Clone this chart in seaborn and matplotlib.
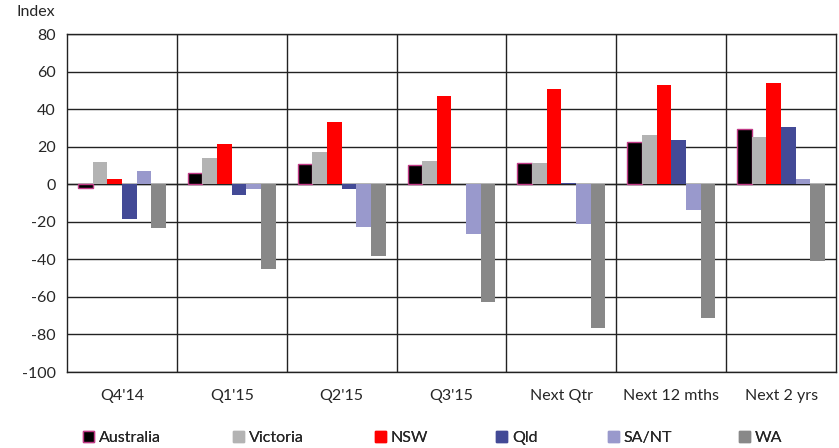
import matplotlib
matplotlib.use("Agg")
import matplotlib.pyplot as plt
import seaborn as sns
import pandas as pd
import numpy as np
from matplotlib.patches import Patch

categories = ["Q4'14", "Q1'15", "Q2'15", "Q3'15", "Next Qtr", "Next 12 mths", "Next 2 yrs"]
series_names = ["Australia", "Victoria", "NSW", "Qld", "SA/NT", "WA"]
australia = [-2, 6, 10.8, 10.3, 11.4, 22.6, 29.3]
victoria = [12, 14, 17.4, 12.3, 11.5, 26.1, 25]
nsw = [3, 21.3, 32.9, 47.2, 50.8, 53.1, 54]
qld = [-18.5, -5.7, -2.3, 0, 0.4, 23.3, 30.4]
sant = [7, -2.8, -22.7, -26.6, -21.3, -13.7, 2.8]
wa = [-23.5, -45, -38, -62.7, -76.5, -71.2, -41]
colors = ["#000000", "#B3B3B3", "#FF0000", "#434A96", "#9999CC", "#888888"]
yticks = list(range(-100, 81, 20))

values = [australia, victoria, nsw, qld, sant, wa]
rows = []
for name, vals in zip(series_names, values):
    for c, v in zip(categories, vals):
        rows.append({"Period": c, "Region": name, "Index": v})
df = pd.DataFrame(rows)

sns.set_theme(style="white")
plt.rcParams["font.family"] = ["Lato", "DejaVu Sans"]

fig = plt.figure(figsize=(8.39, 4.48), dpi=100)
ax = fig.add_axes([67/839, 1-372/448, (836-67)/839, (372-34)/448])

sns.barplot(data=df, x="Period", y="Index", hue="Region", order=categories,
            hue_order=series_names, palette=colors, width=0.8, saturation=1,
            linewidth=0, ax=ax, legend=False)

for patch in ax.containers[0]:
    patch.set_edgecolor("#C03A86")
    patch.set_linewidth(1.0)

ax.set_ylim(-100, 80)
ax.set_xlim(-0.5, len(categories) - 0.5)
ax.set_yticks(yticks)
ax.set_yticklabels([str(t) for t in yticks], fontsize=11.5)
ax.set_xticks(range(len(categories)))
ax.set_xticklabels(categories, fontsize=11.5)
ax.set_xticks(np.arange(0.5, len(categories) - 0.5, 1), minor=True)
ax.tick_params(axis="x", which="both", length=0, pad=12)
ax.tick_params(axis="y", length=0, pad=8)
ax.set_xlabel("")
ax.set_ylabel("")
ax.grid(axis="y", which="major", color="#222222", linewidth=1.0)
ax.grid(axis="x", which="minor", color="#222222", linewidth=1.0)
ax.set_axisbelow(True)
ax.axhline(0, color="#444444", linewidth=1.0, zorder=0.5)
for s in ax.spines.values():
    s.set_color("#222222")
    s.set_linewidth(1.0)

fig.text(16/839, 1-12/448, "Index", fontsize=11.5, va="center", ha="left")

legend_x = [83, 233, 375, 496, 608, 739]
for n, c, lx in zip(series_names, colors, legend_x):
    h = Patch(facecolor=c, edgecolor=("#C03A86" if n == "Australia" else c), linewidth=1.0)
    leg = fig.legend([h], [n], loc="center left", bbox_to_anchor=(lx/839, 1-438/448),
                     frameon=False, fontsize=11.5, handlelength=0.7, handleheight=0.7,
                     handletextpad=0.3, borderaxespad=0, borderpad=0)
    fig.add_artist(leg)

fig.savefig("out.png", dpi=100)
